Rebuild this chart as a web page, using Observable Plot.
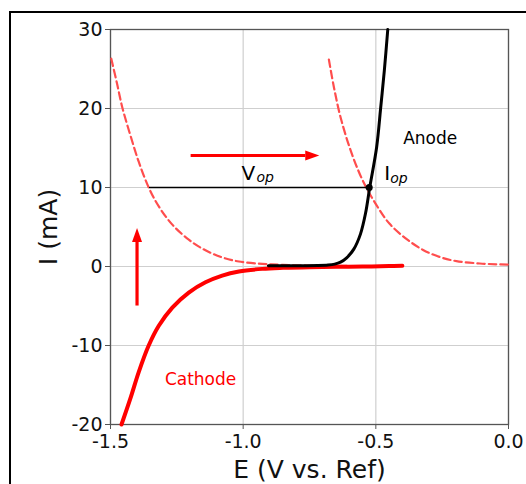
<!DOCTYPE html>
<html><head><meta charset="utf-8">
<script src="https://cdn.jsdelivr.net/npm/d3@7"></script>
<script src="https://cdn.jsdelivr.net/npm/@observablehq/plot@0.6"></script>
<style>
html,body{margin:0;padding:0;background:#fff;}
#wrap{position:relative;width:526px;height:484px;overflow:hidden;background:#fff;}
#frame{position:absolute;left:9px;top:11px;width:700px;height:700px;border:2px solid #000;box-sizing:border-box;}
#chart{position:absolute;left:0;top:0;}
</style></head>
<body><div id="wrap"><div id="frame"></div><div id="chart"></div></div>
<script>
// ---- data ----
const xTicks = [-1.5, -1.0, -0.5, 0.0];
const yTicks = [-20, -10, 0, 10, 20, 30];

const cathodeE = [-1.4585, -1.425, -1.393, -1.356, -1.318, -1.267, -1.205, -1.142, -1.079, -1.016, -0.928, -0.85, -0.75, -0.65, -0.55, -0.45, -0.40];
const cathodeI = [-20, -16.7, -13.3, -10, -7.5, -5.2, -3.3, -2.0, -1.15, -0.63, -0.3, -0.17, -0.08, -0.04, 0, 0.05, 0.1];

const anodeE = [-0.905, -0.8, -0.72, -0.68, -0.655, -0.633, -0.61, -0.583, -0.558, -0.539, -0.523, -0.497, -0.482, -0.468, -0.455];
const anodeI = [0.1, 0.1, 0.12, 0.18, 0.3, 0.55, 1.1, 2.2, 4.1, 6.7, 10, 15.1, 20, 24.8, 30];

const dashLeftE = [-1.497, -1.475, -1.456, -1.425, -1.393, -1.356, -1.318, -1.267, -1.205, -1.142, -1.079, -1.016, -0.928, -0.85, -0.75, -0.65, -0.55];
const dashLeftI = [26.3, 23.1, 20.2, 16.6, 13.2, 10.0, 7.6, 5.3, 3.4, 2.05, 1.15, 0.63, 0.33, 0.2, 0.12, 0.08, 0.05];

const dashRightE = [-0.677, -0.658, -0.633, -0.595, -0.551, -0.500, -0.448, -0.385, -0.322, -0.259, -0.196, -0.108, -0.03, 0.0];
const dashRightI = [26.2, 22.7, 18.9, 14.7, 11.0, 7.9, 5.4, 3.5, 2.1, 1.2, 0.68, 0.38, 0.26, 0.24];

const opE = [-1.352, -0.525];   // operating line ends
const opI = [10, 10];
const opPointE = [-0.525];
const opPointI = [10];

// arrows: shaft start, shaft end (head base), head direction
const arrowStartE = [-1.198, -1.40];
const arrowStartI = [14.05, -4.94];
const arrowEndE = [-0.766, -1.40];
const arrowEndI = [14.05, 3.1];
const arrowDir = ["right", "up"];

const noteText = ["V", "I", "Anode", "Cathode"];
const noteE = [-1.006, -0.468, -0.397, -1.295];
const noteI = [11.0, 10.9, 15.5, -15.0];
const noteSize = [20, 20, 17, 17];
const noteColor = ["black", "black", "black", "red"];

const subText = ["op", "op"];
const subE = [-0.950, -0.446];
const subI = [10.65, 10.55];

// ---- build tables ----
const zip = (es, is) => es.map((e, k) => ({E: e, I: is[k]}));
const cathode = zip(cathodeE, cathodeI);
const anode = zip(anodeE, anodeI);
const dashLeft = zip(dashLeftE, dashLeftI);
const dashRight = zip(dashRightE, dashRightI);
const opLine = zip(opE, opI);
const opPoint = zip(opPointE, opPointI);
const arrows = arrowStartE.map((e, k) => ({E1: e, I1: arrowStartI[k], E2: arrowEndE[k], I2: arrowEndI[k], dir: arrowDir[k]}));
const notes = noteText.map((t, k) => ({t, E: noteE[k], I: noteI[k], s: noteSize[k], c: noteColor[k]}));
const subs = subText.map((t, k) => ({t, E: subE[k], I: subI[k]}));

const headRight = {draw(ctx) { ctx.moveTo(0, -5); ctx.lineTo(14, 0); ctx.lineTo(0, 5); ctx.closePath(); }};
const headUp = {draw(ctx) { ctx.moveTo(-5, 0); ctx.lineTo(0, -14); ctx.lineTo(5, 0); ctx.closePath(); }};

const FONT = "DejaVu Sans";
const dashColor = "#ff4d4d";

const chart = Plot.plot({
  width: 526,
  height: 484,
  marginLeft: 110,
  marginRight: 18,
  marginTop: 29,
  marginBottom: 60,
  style: {fontFamily: FONT, background: "transparent", color: "#111"},
  x: {domain: [-1.5, 0], label: null},
  y: {domain: [-20, 30], label: null},
  marks: [
    Plot.gridX(xTicks, {stroke: "#cfcfcf", strokeOpacity: 1, strokeWidth: 1.2}),
    Plot.gridY(yTicks, {stroke: "#cfcfcf", strokeOpacity: 1, strokeWidth: 1.2}),
    Plot.frame({stroke: "#555", strokeWidth: 1.3}),
    Plot.axisX({ticks: xTicks, tickFormat: d => d.toFixed(1), tickSize: 5, tickPadding: 5, fontSize: 19, stroke: "#555", fill: "#111", label: null}),
    Plot.axisY({ticks: yTicks, tickFormat: d => String(d), tickSize: 5, tickPadding: 3, fontSize: 19, stroke: "#555", fill: "#111", label: null}),
    Plot.line(dashLeft, {x: "E", y: "I", stroke: dashColor, strokeWidth: 2.2, strokeDasharray: "7.5,4", curve: "catmull-rom"}),
    Plot.line(dashRight, {x: "E", y: "I", stroke: dashColor, strokeWidth: 2.2, strokeDasharray: "7.5,4", curve: "catmull-rom"}),
    Plot.line(cathode, {x: "E", y: "I", stroke: "red", strokeWidth: 4, curve: "catmull-rom"}),
    Plot.line(anode, {x: "E", y: "I", stroke: "black", strokeWidth: 3, curve: "catmull-rom"}),
    Plot.line(opLine, {x: "E", y: "I", stroke: "black", strokeWidth: 1.7}),
    Plot.dot(opPoint, {x: "E", y: "I", r: 3.5, fill: "black", stroke: "none"}),
    Plot.link(arrows, {x1: "E1", y1: "I1", x2: "E2", y2: "I2", stroke: "red", strokeWidth: 3.2}),
    Plot.dot(arrows.filter(d => d.dir === "right"), {x: "E2", y: "I2", symbol: headRight, fill: "red", stroke: "none", r: 5}),
    Plot.dot(arrows.filter(d => d.dir === "up"), {x: "E2", y: "I2", symbol: headUp, fill: "red", stroke: "none", r: 5}),
    Plot.text(notes, {x: "E", y: "I", text: "t", fill: "c", fontSize: "s", textAnchor: "start", lineAnchor: "bottom"}),
    Plot.text(subs, {x: "E", y: "I", text: "t", fill: "black", fontSize: 14, fontStyle: "italic", textAnchor: "start", lineAnchor: "bottom"}),
    Plot.text(["E (V vs. Ref)"], {text: d => d, frameAnchor: "bottom", dy: 53, lineAnchor: "bottom", textAnchor: "middle", fontSize: 25, fill: "#111"}),
    Plot.text(["I (mA)"], {text: d => d, frameAnchor: "left", dx: -54, rotate: -90, lineAnchor: "bottom", textAnchor: "middle", fontSize: 25, fill: "#111"})
  ]
});
document.getElementById("chart").appendChild(chart);
</script>
</body></html>
